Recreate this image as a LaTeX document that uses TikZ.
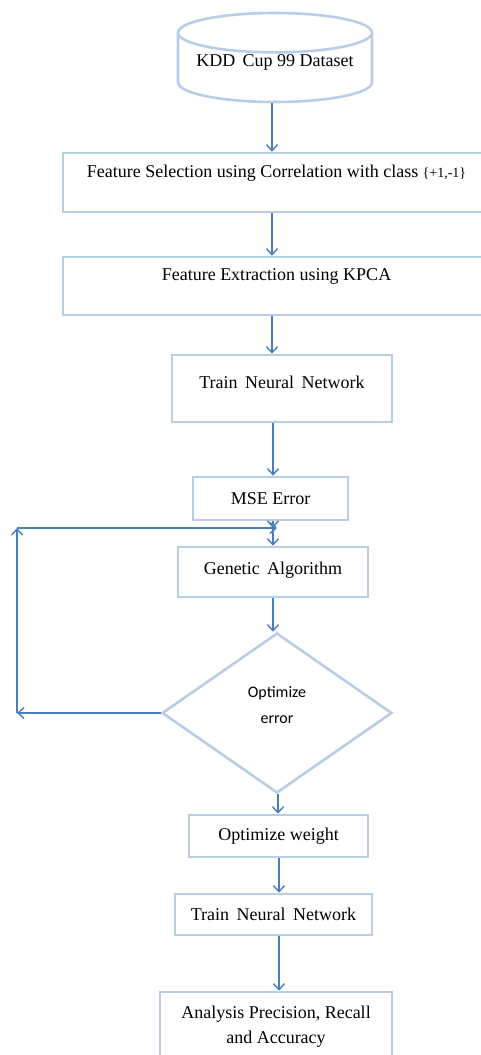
\documentclass[tikz,border=0pt]{standalone}
\usepackage{fontspec}
\setmainfont{Liberation Serif}
\newfontfamily\calibri{Carlito}
\usepackage{tikz}
\usetikzlibrary{positioning,arrows.meta,calc,shapes.geometric}

\definecolor{linkblue}{RGB}{74,126,187}
\definecolor{boxblue}{RGB}{185,205,230}

\tikzset{
	box/.style={draw=boxblue, line width=2.6pt, fill=white, rectangle,
		inner sep=0pt, font=\fontsize{18}{22}\selectfont, align=center},
	topbox/.style={box, text depth=22pt},
	link/.style={->, draw=linkblue, line width=1.4pt}
}

\begin{document}
\begin{tikzpicture}[x=1pt,y=-1pt,>={Straight Barb[length=6pt,width=11pt]}]
	\useasboundingbox (0,0) rectangle (481,1055);
	\clip (0,0) rectangle (481,1055);

	\node[cylinder, shape border rotate=90, aspect=0.25,
		  draw=boxblue, line width=2.6pt, inner sep=0pt,
		  minimum width=194pt, minimum height=89pt, text depth=14pt,
		  font=\fontsize{18}{22}\selectfont, anchor=shape center] 
		  (data) at (275,57.5) {KDD\, Cup 99 Dataset};
	\node[topbox, minimum width=427pt, minimum height=59pt] 
		  (fsel) at (276.5,182.5) {Feature Selection using Correlation with class {\fontsize{14}{16}\selectfont\{+1,-1\}}};
	\node[topbox, minimum width=427pt, minimum height=58pt] 
		  (fext) at (276.5,286) {Feature Extraction using KPCA};
	\node[box, text depth=12pt, minimum width=220pt, minimum height=67pt] 
		  (train1) at (282,388.5) {Train\, Neural\, Network};
	\node[box, minimum width=155pt, minimum height=43pt] 
		  (mse) at (270.5,498.5) {MSE Error};
	\node[box, text depth=8pt, minimum width=190pt, minimum height=50pt] 
		  (ga) at (273,572) {Genetic\, Algorithm};
	\node[diamond, draw=boxblue, line width=2.6pt, inner sep=0pt,
		  minimum width=230pt, minimum height=160pt,
		  label={[yshift=8pt, align=center,
		  font=\calibri\fontsize{16}{26}\selectfont]center:Optimize\\error}] 
		  (opt) at (277,713) {};
	\node[box, minimum width=179pt, minimum height=42pt] 
		  (ow) at (278.5,836) {Optimize weight};
	\node[box, minimum width=197pt, minimum height=41pt] 
		  (train2) at (273.5,914.5) {Train\, Neural\, Network};
	\node[box, minimum width=232pt, minimum height=70pt, 
		  font=\fontsize{18}{25}\selectfont] 
		  (ana) at (276,1027) {Analysis Precision, Recall\\and Accuracy};

	\coordinate (join) at (273,528);
	\coordinate (lb) at (17,713);
	\coordinate (lt) at (17,528);

	\draw[link] (data.south -| 272,0) -- (272,0 |- fsel.north);
	\draw[link] (fsel.south -| 272,0) -- (272,0 |- fext.north);
	\draw[link] (fext.south -| 272,0) -- (272,0 |- train1.north);
	\draw[link] (train1.south -| 273,0) -- (273,0 |- mse.north);
	\draw[link] (mse.south -| join) -- (join);
	\draw[link] (join) -- (join |- ga.north);
	\draw[link] (ga.south -| join) -- (join |- opt.north);
	\draw[link] (opt.west) -- (lb);
	\draw[link] (lb) -- (lt);
	\draw[link] (lt) -- ($(join)+(4,0)$);
	\draw[link] (opt.south -| 278,0) -- (278,0 |- ow.north);
	\draw[link] (ow.south -| 279,0) -- (279,0 |- train2.north);
	\draw[link] (train2.south -| 279,0) -- (279,0 |- ana.north);
\end{tikzpicture}
\end{document}
